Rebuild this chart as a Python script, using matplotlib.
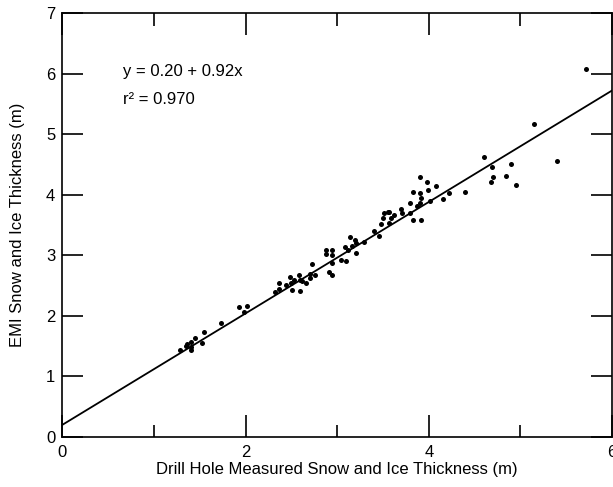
import numpy as np
import matplotlib
matplotlib.use("Agg")
import matplotlib.pyplot as plt
from matplotlib.ticker import MultipleLocator

plt.rcParams["font.family"] = ["Liberation Sans", "DejaVu Sans"]

# drill hole vs EMI thickness (m)
drill = [1.285, 1.35, 1.365, 1.405, 1.41, 1.41, 1.45, 1.52, 1.55, 1.73,
         1.925, 1.98, 2.02, 2.32, 2.37, 2.37, 2.44, 2.49, 2.50, 2.51,
         2.53, 2.58, 2.59, 2.59, 2.62, 2.66, 2.70, 2.70, 2.73, 2.76,
         2.88, 2.88, 2.94, 2.94, 2.94, 2.91, 2.94, 3.04, 3.10, 3.09,
         3.12, 3.14, 3.16, 3.19, 3.21, 3.21, 3.29, 3.40, 3.46, 3.48,
         3.50, 3.51, 3.55, 3.57, 3.57, 3.59, 3.62, 3.70, 3.71, 3.80,
         3.80, 3.83, 3.83, 3.87, 3.90, 3.90, 3.90, 3.91, 3.92, 3.98,
         3.99, 4.01, 4.08, 4.15, 4.22, 4.39, 4.60, 4.69, 4.68, 4.70,
         4.84, 4.90, 4.95, 5.15, 5.40, 5.72]
emi = [1.436, 1.50, 1.535, 1.48, 1.435, 1.57, 1.64, 1.545, 1.73, 1.88,
       2.15, 2.07, 2.17, 2.39, 2.45, 2.55, 2.51, 2.64, 2.55, 2.43,
       2.59, 2.67, 2.41, 2.60, 2.57, 2.54, 2.69, 2.62, 2.85, 2.67,
       3.09, 3.02, 3.09, 3.00, 2.87, 2.73, 2.67, 2.92, 2.91, 3.14,
       3.09, 3.30, 3.15, 3.25, 3.20, 3.03, 3.22, 3.40, 3.32, 3.51,
       3.61, 3.70, 3.72, 3.71, 3.53, 3.61, 3.66, 3.76, 3.69, 3.86,
       3.69, 3.59, 4.05, 3.81, 4.29, 4.02, 3.87, 3.59, 3.94, 4.21,
       4.08, 3.89, 4.14, 3.93, 4.03, 4.05, 4.63, 4.46, 4.21, 4.29,
       4.31, 4.50, 4.16, 5.16, 4.56, 6.07]

intercept, slope = 0.20, 0.92
r2 = 0.970

fig = plt.figure(figsize=(6.13, 4.87), dpi=100)
ax = fig.add_axes([0.1016, 0.1027, 0.8968, 0.8706])

ax.scatter(drill, emi, s=13, color="black", linewidths=0, zorder=3)

xl = np.array([0, 6])
ax.plot(xl, intercept + slope * xl, color="black", lw=1.3)

ax.set_xlim(0, 6)
ax.set_ylim(0, 7)
ax.xaxis.set_major_locator(MultipleLocator(2))
ax.xaxis.set_minor_locator(MultipleLocator(1))
ax.yaxis.set_major_locator(MultipleLocator(1))

ax.tick_params(which="both", direction="in", top=True, right=True,
               width=1.2, color="black", labelsize=12)
ax.tick_params(which="major", axis="x", length=16)
ax.tick_params(which="minor", axis="x", length=9)
ax.tick_params(which="major", axis="y", length=15)
ax.tick_params(axis="x", pad=6)
ax.tick_params(axis="y", pad=5)
for spine in ax.spines.values():
    spine.set_linewidth(1.2)

ax.set_xlabel("Drill Hole Measured Snow and Ice Thickness (m)", fontsize=12, labelpad=1)
ax.set_ylabel("EMI Snow and Ice Thickness (m)", fontsize=12, labelpad=15)

ax.text(0.66, 6.03, f"y = {intercept:.2f} + {slope:.2f}x", fontsize=12, va="center")
ax.text(0.66, 5.58, f"r² = {r2:.3f}", fontsize=12, va="center")

fig.savefig("out.png", dpi=100)
